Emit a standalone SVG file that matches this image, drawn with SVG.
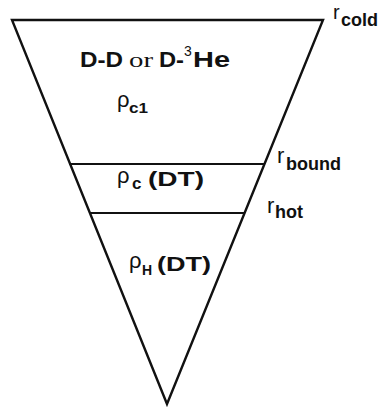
<svg xmlns="http://www.w3.org/2000/svg" width="385" height="411" viewBox="0 0 385 411">
<style>
  .ln { stroke:#111; fill:none; stroke-linecap:round; stroke-linejoin:miter; }
  .t { font-family:"Liberation Sans", Arial, sans-serif; fill:#111; }
  .b { font-weight:bold; }
  .s { font-family:"Liberation Serif", "Times New Roman", serif; fill:#111; }
</style>
<g id="connectors">
  <polygon class="ln" points="12,20 323,20 167,404" stroke-width="2.4"/>
  <line class="ln" x1="70" y1="164" x2="264" y2="164" stroke-width="2"/>
  <line class="ln" x1="90" y1="213" x2="244" y2="213" stroke-width="2"/>
</g>
<g id="region-cold">
  <text class="t b" x="80" y="67" font-size="22" textLength="43" lengthAdjust="spacingAndGlyphs">D-D</text>
  <text class="s" x="129" y="67" font-size="22" textLength="24" lengthAdjust="spacingAndGlyphs">or</text>
  <text class="t b" x="159" y="67" font-size="22" textLength="25" lengthAdjust="spacingAndGlyphs">D-</text>
  <text class="t" x="184" y="56" font-size="14">3</text>
  <text class="t b" x="193" y="67" font-size="22" textLength="37" lengthAdjust="spacingAndGlyphs">He</text>
  <text class="t" x="117" y="107" font-size="22">ρ</text>
  <text class="t b" x="129" y="113" font-size="15" textLength="19" lengthAdjust="spacingAndGlyphs">c1</text>
</g>
<g id="region-c">
  <text class="t" x="117" y="183" font-size="22">ρ</text>
  <text class="t b" x="132" y="189" font-size="17">c</text>
  <text class="t b" x="148" y="186" font-size="21" textLength="56" lengthAdjust="spacingAndGlyphs">(DT)</text>
</g>
<g id="region-hot">
  <text class="t" x="129" y="268" font-size="22">ρ</text>
  <text class="t b" x="142" y="275" font-size="14">H</text>
  <text class="t b" x="157" y="271" font-size="21" textLength="54" lengthAdjust="spacingAndGlyphs">(DT)</text>
</g>
<g id="label-cold">
  <text class="t" x="333" y="19" font-size="20">r</text>
  <text class="t b" x="341" y="26" font-size="18">cold</text>
</g>
<g id="label-bound">
  <text class="t" x="277" y="163" font-size="22">r</text>
  <text class="t b" x="286" y="170" font-size="18">bound</text>
</g>
<g id="label-hot">
  <text class="t" x="267" y="213" font-size="22">r</text>
  <text class="t b" x="275" y="218" font-size="18">hot</text>
</g>
</svg>
